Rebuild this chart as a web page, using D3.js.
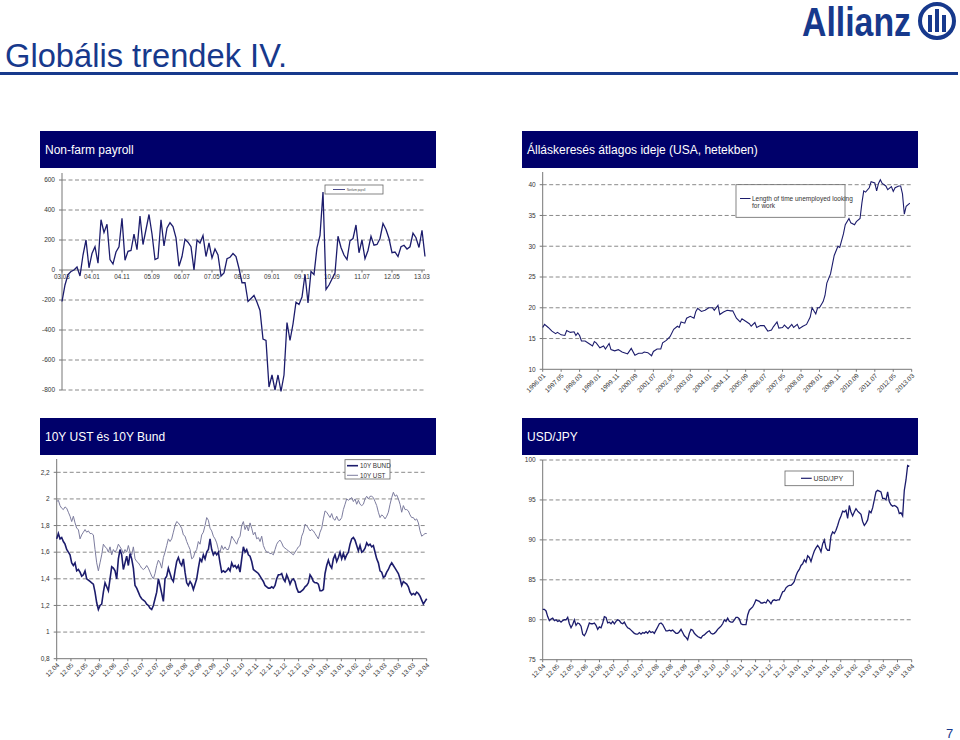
<!DOCTYPE html>
<html><head><meta charset="utf-8">
<script src="https://cdn.jsdelivr.net/npm/d3@7"></script>
<style>
html,body{margin:0;padding:0;background:#fff;}
svg{display:block;font-family:"Liberation Sans",Arial,sans-serif;}
</style></head>
<body>
<svg id="c" width="960" height="740"></svg>
<script>
// ---------- DATA ----------
const pageTitle = "Globális trendek IV.";
const panelTitles = ["Non-farm payroll","Álláskeresés átlagos ideje (USA, hetekben)","10Y UST és 10Y Bund","USD/JPY"];

// Non-farm payroll (monthly, thousands), 2003.03 - 2013.03
const nfpValues = [-210,-100,-30,-10,0,20,-40,100,200,15,110,155,45,335,250,305,70,40,120,155,345,65,125,130,240,135,360,170,270,370,240,70,80,335,160,280,315,290,215,25,90,205,185,155,0,200,180,230,90,180,80,140,100,-40,-20,75,85,110,90,10,-85,-85,-210,-190,-170,-215,-270,-460,-470,-780,-700,-800,-700,-810,-700,-350,-470,-360,-215,-230,-180,-30,-220,-10,-30,150,230,520,-130,-100,-60,-20,225,150,100,70,195,210,300,115,200,75,130,225,165,170,210,310,270,210,115,120,90,155,165,140,155,245,215,150,265,90];
const nfpLabels = ["03.03","04.01","04.11","05.09","06.07","07.05","08.03","09.01","09.11","10.09","11.07","12.05","13.03"];
const nfpTicks = [600,400,200,0,-200,-400,-600,-800];

// Length of time unemployed (weeks); month offset from first month
const durMonths = [0,1,3,5,7,8,10,12,13,15,17,18,19,20,21,23,25,27,28,29,31,33,34,36,37,39,41,43,45,46,48,50,52,54,55,57,59,60,62,64,65,67,69,71,73,74,75,77,78,80,82,83,84,86,88,90,92,93,95,96,98,100,102,103,105,107,108,110,112,113,115,116,118,120,122,124,125,127,128,130,131,133,135,136,138,139,141,143,145,146,148,149,150,152,153,154,156,157,158,160,161,163,164,166,167,169,170,172,173,174,175,177,178,180,181,182,183,184,186,187,189,190,191,193,194,195,196,197,199];
const durValues = [16.8,17.3,16.8,16.2,15.8,16.0,15.6,15.5,16.3,16.0,16.1,15.5,15.9,15.5,14.6,14.6,14.2,13.8,14.5,14.3,13.5,13.8,13.3,14.2,13.2,13.0,13.2,12.8,12.6,12.5,13.4,12.3,12.6,12.6,12.8,12.7,12.2,12.9,13.3,13.3,14.3,14.7,15.3,16.5,17.0,16.8,17.7,17.5,18.3,18.6,18.3,19.4,19.9,19.4,19.6,20.0,20.0,19.6,20.4,18.9,19.3,19.6,19.5,19.5,18.3,17.7,18.2,17.8,17.4,17.0,17.6,16.8,17.1,17.1,16.2,16.4,16.9,17.7,16.7,16.8,17.2,16.6,17.3,16.8,17.3,16.6,17.0,17.3,18.5,20.0,19.0,20.0,20.0,21.0,22.0,24.0,25.5,27.0,28.5,30.0,29.8,32.0,33.5,34.5,33.8,33.5,34.0,34.5,37.0,39.0,38.8,39.5,40.5,40.3,39.0,40.2,40.8,40.2,39.8,39.2,39.7,38.9,39.5,39.8,39.8,38.5,35.2,36.5,37.0];
const durLabels = ["1996.01","1997.05","1998.03","1999.01","1999.11","2000.09","2001.07","2002.05","2003.03","2004.01","2004.11","2005.09","2006.07","2007.05","2008.03","2009.01","2009.11","2010.09","2011.07","2012.05","2013.03"];
const durTicks = [40,35,30,25,20,15,10];

// 10Y Bund and 10Y UST yields (%)
const bundValues = [1.70,1.74,1.70,1.71,1.68,1.66,1.62,1.60,1.58,1.52,1.50,1.52,1.46,1.47,1.45,1.42,1.43,1.46,1.40,1.39,1.38,1.37,1.36,1.30,1.22,1.17,1.20,1.21,1.30,1.37,1.34,1.31,1.40,1.49,1.48,1.46,1.40,1.55,1.62,1.58,1.47,1.52,1.57,1.50,1.59,1.55,1.48,1.35,1.33,1.30,1.27,1.25,1.24,1.23,1.21,1.20,1.18,1.17,1.20,1.25,1.30,1.40,1.35,1.29,1.23,1.40,1.42,1.48,1.44,1.40,1.38,1.46,1.53,1.56,1.52,1.50,1.55,1.45,1.37,1.35,1.38,1.36,1.32,1.36,1.40,1.48,1.55,1.53,1.58,1.55,1.60,1.62,1.70,1.62,1.58,1.60,1.58,1.60,1.52,1.45,1.46,1.45,1.46,1.48,1.46,1.52,1.49,1.50,1.48,1.50,1.45,1.55,1.64,1.60,1.62,1.58,1.57,1.53,1.47,1.46,1.45,1.44,1.42,1.40,1.38,1.35,1.34,1.33,1.33,1.34,1.33,1.35,1.40,1.43,1.43,1.44,1.40,1.38,1.43,1.40,1.36,1.39,1.40,1.38,1.33,1.30,1.30,1.31,1.32,1.34,1.35,1.37,1.43,1.41,1.38,1.37,1.37,1.36,1.31,1.31,1.32,1.44,1.50,1.54,1.50,1.48,1.55,1.58,1.53,1.56,1.60,1.55,1.59,1.55,1.58,1.60,1.66,1.70,1.71,1.69,1.65,1.61,1.65,1.60,1.61,1.63,1.67,1.65,1.66,1.64,1.65,1.60,1.55,1.52,1.46,1.45,1.41,1.42,1.45,1.47,1.50,1.52,1.50,1.48,1.46,1.44,1.40,1.35,1.38,1.37,1.36,1.34,1.30,1.28,1.29,1.28,1.30,1.29,1.27,1.24,1.21,1.23,1.25];
const ustValues = [1.98,1.99,1.95,1.93,1.92,1.94,1.93,1.90,1.87,1.83,1.87,1.82,1.78,1.77,1.70,1.73,1.75,1.77,1.75,1.76,1.74,1.74,1.73,1.62,1.52,1.46,1.52,1.58,1.66,1.64,1.63,1.60,1.64,1.58,1.62,1.60,1.62,1.66,1.64,1.62,1.59,1.62,1.60,1.65,1.60,1.58,1.64,1.55,1.53,1.52,1.50,1.48,1.47,1.48,1.50,1.48,1.45,1.42,1.40,1.44,1.50,1.54,1.52,1.48,1.56,1.60,1.65,1.70,1.68,1.70,1.75,1.80,1.83,1.82,1.80,1.78,1.73,1.72,1.68,1.65,1.62,1.55,1.56,1.60,1.62,1.68,1.66,1.73,1.75,1.80,1.86,1.84,1.78,1.76,1.72,1.70,1.67,1.62,1.60,1.65,1.62,1.64,1.62,1.62,1.66,1.72,1.70,1.68,1.66,1.70,1.72,1.80,1.83,1.77,1.80,1.76,1.82,1.78,1.73,1.75,1.70,1.71,1.68,1.72,1.65,1.62,1.60,1.60,1.59,1.59,1.58,1.62,1.66,1.68,1.69,1.67,1.64,1.63,1.62,1.61,1.60,1.59,1.58,1.60,1.62,1.64,1.65,1.72,1.75,1.81,1.80,1.78,1.76,1.77,1.76,1.74,1.72,1.70,1.75,1.78,1.85,1.91,1.90,1.88,1.86,1.89,1.85,1.84,1.87,1.84,1.84,1.86,1.92,1.96,2.00,1.99,2.00,2.01,1.98,2.00,1.96,1.99,1.96,1.95,1.96,2.00,2.02,2.00,2.02,2.02,2.01,1.98,1.95,1.90,1.86,1.88,1.87,1.85,1.87,1.90,1.96,2.01,2.05,2.02,2.03,2.00,1.96,1.90,1.95,1.92,1.92,1.91,1.88,1.86,1.86,1.84,1.85,1.82,1.76,1.72,1.73,1.74,1.74];
const bondLabels = ["12.04","12.05","12.05","12.06","12.06","12.07","12.07","12.07","12.08","12.08","12.09","12.09","12.10","12.10","12.11","12.11","12.12","12.12","13.01","13.01","13.01","13.02","13.02","13.03","13.03","13.03","13.04"];
const bondTicks = [2.2,2.0,1.8,1.6,1.4,1.2,1.0,0.8];
const bondSeries = ["10Y BUND","10Y UST"];

// USD/JPY
const jpyValues = [81.3,81.3,81.1,80.4,79.9,80.1,80.2,79.9,80.0,79.8,79.9,79.7,79.9,80.0,80.0,80.3,79.5,79.0,79.4,80.0,79.3,79.6,79.5,79.2,78.2,78.0,78.4,79.0,79.6,79.5,79.5,79.6,79.3,78.8,79.1,79.0,79.6,80.4,80.3,79.6,79.7,79.5,79.8,79.5,79.8,80.0,79.9,79.6,79.5,79.7,79.3,79.0,78.9,78.7,78.5,78.3,78.2,78.2,78.4,78.2,78.4,78.3,78.5,78.3,78.6,78.4,78.5,78.3,78.7,79.1,79.5,79.6,79.4,79.0,78.6,78.6,78.7,78.6,78.7,78.5,78.3,78.3,78.5,78.8,78.4,78.0,77.8,77.5,78.3,78.8,78.7,78.3,78.1,77.9,77.8,77.7,78.0,78.1,78.3,78.5,78.6,78.3,78.2,78.3,78.5,78.8,79.0,79.2,79.5,80.0,79.8,80.2,79.8,79.7,79.7,80.0,80.3,80.3,80.1,79.5,79.4,79.4,79.4,80.6,81.2,81.4,81.6,82.0,82.5,82.4,82.3,82.1,82.1,82.2,82.1,82.5,82.3,82.0,82.4,82.5,82.4,82.5,82.5,83.0,83.5,83.6,84.0,84.2,84.3,84.3,84.5,84.8,85.5,86.0,86.3,86.8,87.0,87.5,87.2,88.0,87.8,87.3,88.0,88.6,89.0,89.3,89.0,88.5,89.5,90.0,89.0,88.7,88.7,90.5,91.0,90.8,91.2,91.8,92.5,93.0,93.6,93.5,93.7,92.7,94.3,93.5,93.0,93.5,93.9,93.6,93.4,93.2,92.3,91.8,92.1,92.5,93.6,93.4,94.0,95.0,96.0,96.2,96.1,96.0,95.2,95.2,95.0,96.0,94.8,94.4,94.2,94.3,94.2,94.0,93.3,93.4,93.0,96.2,97.5,99.3,99.2];
const jpyTicks = [100,95,90,85,80,75];
const jpyLabels = bondLabels;

// ---------- DRAWING ----------
const svg = d3.select("#c");
const NAVY = "#1c1c6c", BLUE = "#17398c", BAR = "#00006a";
const fmtComma = d => d3.format(".1f")(d).replace(".", ",").replace(/,0$/, "");

// header
svg.append("text").attr("x", 5).attr("y", 67).attr("font-size", 33).attr("fill", BLUE)
  .attr("textLength", 282).attr("lengthAdjust", "spacingAndGlyphs").text(pageTitle);
svg.append("rect").attr("x", 0).attr("y", 72).attr("width", 958).attr("height", 3).attr("fill", BLUE);
svg.append("text").attr("x", 802).attr("y", 36).attr("font-size", 40).attr("font-weight", "bold")
  .attr("fill", BLUE).attr("textLength", 109).attr("lengthAdjust", "spacingAndGlyphs").text("Allianz");
const lg = svg.append("g").attr("transform", "translate(937,21)");
lg.append("circle").attr("r", 17).attr("fill", "none").attr("stroke", BLUE).attr("stroke-width", 4);
lg.append("rect").attr("x", -9).attr("y", -6).attr("width", 4).attr("height", 17).attr("fill", BLUE);
lg.append("rect").attr("x", -2).attr("y", -12).attr("width", 4).attr("height", 23).attr("fill", BLUE);
lg.append("rect").attr("x", 5).attr("y", -6).attr("width", 4).attr("height", 17).attr("fill", BLUE);
svg.append("text").attr("x", 946).attr("y", 738).attr("font-size", 13).attr("fill", BLUE).text("7");

// panel title bars
const bars = [[40,131,396],[522,131,396],[40,418,396],[522,418,396]];
bars.forEach((b,i) => {
  svg.append("rect").attr("x", b[0]).attr("y", b[1]).attr("width", b[2]).attr("height", 37).attr("fill", BAR);
  svg.append("text").attr("x", b[0] + 5).attr("y", b[1] + 23).attr("font-size", 12).attr("fill", "#fff").text(panelTitles[i]);
});

function yAxisAndGrid(g, y, ticks, x0, x1, axisTop, axisVal, fmt) {
  ticks.forEach(t => {
    if (t !== axisVal) {
      g.append("line").attr("x1", x0).attr("x2", x1).attr("y1", y(t)).attr("y2", y(t))
        .attr("stroke", "#8a8a8a").attr("stroke-width", 1).attr("stroke-dasharray", "4,2.5");
    }
    g.append("line").attr("x1", x0 - 3).attr("x2", x0).attr("y1", y(t)).attr("y2", y(t)).attr("stroke", "#777");
    g.append("text").attr("x", x0 - 7).attr("y", y(t) + 2.3).attr("text-anchor", "end")
      .attr("font-size", 6.5).attr("fill", "#333").text(fmt(t));
  });
  g.append("line").attr("x1", x0).attr("x2", x0).attr("y1", axisTop).attr("y2", y(ticks[ticks.length-1]))
    .attr("stroke", "#777");
}
function xAxisLine(g, y0, x0, x1, tickXs) {
  g.append("line").attr("x1", x0).attr("x2", x1).attr("y1", y0).attr("y2", y0).attr("stroke", "#777");
  tickXs.forEach(x => g.append("line").attr("x1", x).attr("x2", x).attr("y1", y0).attr("y2", y0 + 2.5).attr("stroke", "#777"));
}
function rotatedLabels(g, labels, xs, y0) {
  labels.forEach((l, i) => {
    g.append("text").attr("text-anchor", "end").attr("font-size", 6.5).attr("fill", "#333")
      .attr("transform", `translate(${xs[i] + 3},${y0 + 7}) rotate(-45)`).text(l);
  });
}
function legendBox(g, x, y, w, h) {
  g.append("rect").attr("x", x).attr("y", y).attr("width", w).attr("height", h)
    .attr("fill", "#fff").attr("stroke", "#666").attr("stroke-width", 0.8);
}

// ---- Panel 1: NFP ----
{
  const g = svg.append("g");
  const y = d3.scaleLinear().domain([-800, 600]).range([390, 180]);
  const x = d3.scaleLinear().domain([0, nfpValues.length - 1]).range([62, 425]);
  yAxisAndGrid(g, y, nfpTicks, 62, 425, 173, 0, d => d);
  const lblX = nfpLabels.map((l, i) => x(i * 10));
  xAxisLine(g, y(0), 62, 425, lblX);
  nfpLabels.forEach((l, i) => g.append("text").attr("x", lblX[i]).attr("y", y(0) + 9).attr("text-anchor", "middle")
    .attr("font-size", 6.3).attr("fill", "#333").text(l));
  g.append("path").datum(nfpValues).attr("fill", "none").attr("stroke", NAVY).attr("stroke-width", 1.3)
    .attr("d", d3.line().x((d, i) => x(i)).y(d => y(d)));
  legendBox(g, 325, 185, 58, 9);
  g.append("line").attr("x1", 333).attr("x2", 345).attr("y1", 189.5).attr("y2", 189.5).attr("stroke", NAVY).attr("stroke-width", 0.8);
  g.append("text").attr("x", 347).attr("y", 190.5).attr("font-size", 2.6).attr("fill", "#444").text("Nonfarm payroll");
}

// ---- Panel 2: Duration ----
{
  const g = svg.append("g");
  const y = d3.scaleLinear().domain([10, 40]).range([369.3, 184.7]);
  const x = d3.scaleLinear().domain([0, 200]).range([542.7, 911.7]);
  yAxisAndGrid(g, y, durTicks, 542.7, 911.7, 172, 10, d => d);
  const lblX = durLabels.map((l, i) => x(i * 10));
  xAxisLine(g, y(10), 542.7, 911.7, lblX);
  rotatedLabels(g, durLabels, lblX, y(10));
  g.append("path").datum(durValues).attr("fill", "none").attr("stroke", NAVY).attr("stroke-width", 1.1)
    .attr("d", d3.line().x((d, i) => x(durMonths[i])).y(d => y(d)));
  legendBox(g, 736, 184.7, 109, 32.6);
  g.append("line").attr("x1", 740).attr("x2", 750.5).attr("y1", 198.5).attr("y2", 198.5).attr("stroke", NAVY).attr("stroke-width", 1);
  g.append("text").attr("x", 752).attr("y", 200.5).attr("font-size", 6.5).attr("fill", "#333").text("Length of time unemployed looking");
  g.append("text").attr("x", 752).attr("y", 208).attr("font-size", 6.5).attr("fill", "#333").text("for work");
}

// ---- Panel 3: Bonds ----
{
  const g = svg.append("g");
  const y = d3.scaleLinear().domain([0.8, 2.2]).range([658.7, 472.3]);
  const x = d3.scaleLinear().domain([0, bundValues.length - 1]).range([56.7, 426.7]);
  yAxisAndGrid(g, y, bondTicks, 56.7, 426.7, 459, 0.8, fmtComma);
  const xl = d3.scaleLinear().domain([0, bondLabels.length - 1]).range([56.7, 426.7]);
  const lblX = bondLabels.map((l, i) => xl(i));
  xAxisLine(g, y(0.8), 56.7, 426.7, lblX);
  rotatedLabels(g, bondLabels, lblX, y(0.8));
  g.append("path").datum(ustValues).attr("fill", "none").attr("stroke", "#7c7c9e").attr("stroke-width", 1)
    .attr("d", d3.line().x((d, i) => x(i)).y(d => y(d)));
  g.append("path").datum(bundValues).attr("fill", "none").attr("stroke", NAVY).attr("stroke-width", 1.6)
    .attr("d", d3.line().x((d, i) => x(i)).y(d => y(d)));
  legendBox(g, 345, 459.7, 45, 19.3);
  g.append("line").attr("x1", 347).attr("x2", 358).attr("y1", 465.7).attr("y2", 465.7).attr("stroke", NAVY).attr("stroke-width", 1.6);
  g.append("line").attr("x1", 347).attr("x2", 358).attr("y1", 475.3).attr("y2", 475.3).attr("stroke", "#7c7c9e").attr("stroke-width", 1);
  g.append("text").attr("x", 360).attr("y", 468).attr("font-size", 6.3).attr("fill", "#333").text(bondSeries[0]);
  g.append("text").attr("x", 360).attr("y", 477.5).attr("font-size", 6.3).attr("fill", "#333").text(bondSeries[1]);
}

// ---- Panel 4: USD/JPY ----
{
  const g = svg.append("g");
  const y = d3.scaleLinear().domain([75, 100]).range([659.7, 460]);
  const x = d3.scaleLinear().domain([0, jpyValues.length - 1]).range([542.7, 909.3]);
  yAxisAndGrid(g, y, jpyTicks, 542.7, 911.7, 460, 75, d => d);
  const xl = d3.scaleLinear().domain([0, jpyLabels.length - 1]).range([542.7, 911.7]);
  const lblX = jpyLabels.map((l, i) => xl(i));
  xAxisLine(g, y(75), 542.7, 911.7, lblX);
  rotatedLabels(g, jpyLabels, lblX, y(75));
  g.append("path").datum(jpyValues).attr("fill", "none").attr("stroke", NAVY).attr("stroke-width", 1.3)
    .attr("d", d3.line().x((d, i) => x(i)).y(d => y(d)));
  legendBox(g, 785, 471, 68.3, 14.7);
  g.append("line").attr("x1", 801).attr("x2", 811.7).attr("y1", 478.3).attr("y2", 478.3).attr("stroke", NAVY).attr("stroke-width", 1.2);
  g.append("text").attr("x", 813.5).attr("y", 480.8).attr("font-size", 7).attr("fill", "#333").text("USD/JPY");
}
</script>
</body></html>
